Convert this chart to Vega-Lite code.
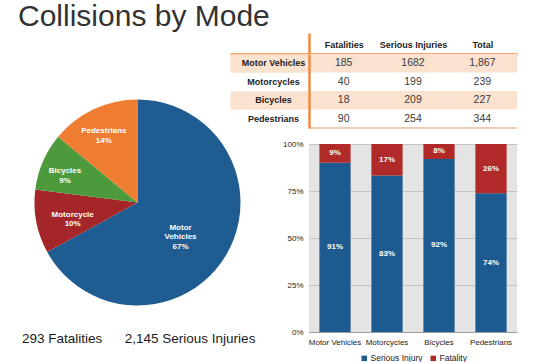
{
  "$schema": "https://vega.github.io/schema/vega-lite/v6.json",
  "background": "white",
  "padding": {"left": 18, "top": 1, "right": 0, "bottom": 0},
  "config": {"font": "Liberation Sans", "view": {"stroke": null}, "legend": {"layout": {"bottom": {"anchor": "middle"}}}},
  "title": {"text": "Collisions by Mode", "anchor": "start", "fontSize": 30, "fontWeight": "normal", "color": "#333333", "dx": -4, "offset": 0},
  "datasets": {
    "pie": [
      {"mode": "Motor Vehicles", "pct": 67, "label": "Motor\nVehicles\n67%"},
      {"mode": "Motorcycle", "pct": 10, "label": "Motorcycle\n10%"},
      {"mode": "Bicycles", "pct": 9, "label": "Bicycles\n9%"},
      {"mode": "Pedestrians", "pct": 14, "label": "Pedestrians\n14%"}
    ],
    "table": [
      {"mode": "Motor Vehicles", "fatalities": 185, "serious": 1682, "total": 1867},
      {"mode": "Motorcycles", "fatalities": 40, "serious": 199, "total": 239},
      {"mode": "Bicycles", "fatalities": 18, "serious": 209, "total": 227},
      {"mode": "Pedestrians", "fatalities": 90, "serious": 254, "total": 344}
    ],
    "bars": [
      {"mode": "Motor Vehicles", "type": "Serious Injury", "count": 1682, "share": 0.91},
      {"mode": "Motor Vehicles", "type": "Fatality", "count": 185, "share": 0.09},
      {"mode": "Motorcycles", "type": "Serious Injury", "count": 199, "share": 0.83},
      {"mode": "Motorcycles", "type": "Fatality", "count": 40, "share": 0.17},
      {"mode": "Bicycles", "type": "Serious Injury", "count": 209, "share": 0.92},
      {"mode": "Bicycles", "type": "Fatality", "count": 18, "share": 0.08},
      {"mode": "Pedestrians", "type": "Serious Injury", "count": 254, "share": 0.74},
      {"mode": "Pedestrians", "type": "Fatality", "count": 90, "share": 0.26}
    ]
  },
  "bounds": "flush",
  "spacing": 56,
  "resolve": {"scale": {"color": "independent"}, "legend": {"color": "independent"}},
  "hconcat": [
    {
      "width": 231,
      "height": 297,
      "data": {"name": "pie"},
      "transform": [{"window": [{"op": "row_number", "as": "idx"}]}],
      "title": {"text": "293 Fatalities\u00a0\u00a0\u00a0\u00a0\u00a0 2,145 Serious Injuries", "orient": "bottom", "anchor": "start", "offset": -19, "fontSize": 13.5, "fontWeight": "normal", "color": "#1a1a1a"},
      "layer": [
        {
          "mark": {"type": "arc", "outerRadius": 103},
          "encoding": {
            "theta": {"field": "pct", "type": "quantitative", "stack": true},
            "color": {"field": "mode", "type": "nominal", "scale": {"domain": ["Motor Vehicles", "Motorcycle", "Bicycles", "Pedestrians"], "range": ["#1e5c91", "#a52629", "#4c9a3c", "#ef7d31"]}, "legend": null},
            "order": {"field": "idx", "type": "quantitative"}
          }
        },
        {
          "mark": {"type": "text", "radius": 50, "color": "white", "fontWeight": "bold", "fontSize": 8, "lineBreak": "\n", "lineHeight": 9.5, "align": "center", "baseline": "middle"},
          "encoding": {
            "theta": {"field": "pct", "type": "quantitative", "stack": true},
            "detail": {"field": "mode"},
            "order": {"field": "idx", "type": "quantitative"},
            "text": {"condition": {"test": "datum.mode === 'Motor Vehicles'", "field": "label"}, "value": ""}
          }
        },
        {
          "mark": {"type": "text", "radius": 66, "color": "white", "fontWeight": "bold", "fontSize": 8, "lineBreak": "\n", "lineHeight": 9.5, "align": "center", "baseline": "middle"},
          "encoding": {
            "theta": {"field": "pct", "type": "quantitative", "stack": true},
            "detail": {"field": "mode"},
            "order": {"field": "idx", "type": "quantitative"},
            "text": {"condition": {"test": "datum.mode === 'Motorcycle'", "field": "label"}, "value": ""}
          }
        },
        {
          "mark": {"type": "text", "radius": 79, "color": "white", "fontWeight": "bold", "fontSize": 8, "lineBreak": "\n", "lineHeight": 9.5, "align": "center", "baseline": "middle"},
          "encoding": {
            "theta": {"field": "pct", "type": "quantitative", "stack": true},
            "detail": {"field": "mode"},
            "order": {"field": "idx", "type": "quantitative"},
            "text": {"condition": {"test": "datum.mode === 'Bicycles' || datum.mode === 'Pedestrians'", "field": "label"}, "value": ""}
          }
        }
      ]
    },
    {
      "bounds": "flush",
      "spacing": 16,
      "resolve": {"scale": {"color": "independent"}, "legend": {"color": "independent"}},
      "vconcat": [
        {
          "width": 208,
          "height": 74,
          "data": {"name": "table"},
          "resolve": {"scale": {"y": "independent"}, "axis": {"y": "independent"}},
          "layer": [
            {
              "encoding": {
                "y": {"field": "mode", "type": "nominal",
                  "scale": {"domain": ["Motor Vehicles", "Motorcycles", "Bicycles", "Pedestrians"], "paddingInner": 0, "paddingOuter": 0},
                  "axis": {"title": null, "orient": "left", "domainColor": "#ee8a44", "domainWidth": 2.5, "labelFontWeight": "bold", "labelFontSize": 9, "labelColor": "#222222", "labelAlign": "center", "labelBaseline": "middle", "labelPadding": -43, "tickSize": 79, "tickWidth": 18.5,
                    "tickColor": {"condition": {"test": "datum.value === 'Motor Vehicles' || datum.value === 'Bicycles'", "value": "#fbe2cf"}, "value": "transparent"}}}
              },
              "layer": [
                {
                  "transform": [{"filter": "datum.mode === 'Motor Vehicles' || datum.mode === 'Bicycles'"}],
                  "mark": {"type": "rect", "color": "#fbe2cf"},
                  "encoding": {}
                },
                {
                  "mark": {"type": "text", "fontSize": 10.5, "color": "#3a3a3a", "baseline": "middle"},
                  "encoding": {
                    "x": {"datum": "Fatalities", "type": "nominal",
                      "scale": {"domain": ["Fatalities", "Serious Injuries", "Total"], "paddingInner": 0, "paddingOuter": 0},
                      "axis": {"title": null, "orient": "top", "labelAngle": 0, "labelFontWeight": "bold", "labelFontSize": 9, "labelColor": "#222222", "labelBaseline": "middle", "labelPadding": -11.5, "domainColor": "#ee8a44", "domainWidth": 2.5, "tickBand": "extent", "tickSize": 21, "tickWidth": 2.5,
                        "tickColor": {"condition": {"test": "datum.extra", "value": "#ee8a44"}, "value": "transparent"}}},
                    "text": {"field": "fatalities", "type": "quantitative", "format": "d"}
                  }
                },
                {
                  "mark": {"type": "text", "fontSize": 10.5, "color": "#3a3a3a", "baseline": "middle"},
                  "encoding": {
                    "x": {"datum": "Serious Injuries", "type": "nominal"},
                    "text": {"field": "serious", "type": "quantitative", "format": "d"}
                  }
                },
                {
                  "mark": {"type": "text", "fontSize": 10.5, "color": "#3a3a3a", "baseline": "middle"},
                  "encoding": {
                    "x": {"datum": "Total", "type": "nominal"},
                    "text": {"field": "total", "type": "quantitative", "format": ",d"}
                  }
                }
              ]
            },
            {
              "mark": {"type": "rule", "color": "#f1c9a8", "strokeWidth": 1},
              "encoding": {
                "y": {"datum": "Pedestrians", "type": "nominal", "bandPosition": 1,
                  "scale": {"domain": ["Motor Vehicles", "Motorcycles", "Bicycles", "Pedestrians"], "paddingInner": 0, "paddingOuter": 0},
                  "axis": {"title": null, "orient": "left", "labels": false, "domain": false, "grid": false, "tickBand": "extent", "tickSize": 79,
                    "tickColor": {"condition": {"test": "datum.extra", "value": "#ee8a44"}, "value": {"expr": "datum.value === 'Pedestrians' ? '#f1c9a8' : 'transparent'"}},
                    "tickWidth": {"condition": {"test": "datum.extra", "value": 2.5}, "value": 1}}}
              }
            }
          ]
        },
        {
          "width": 208,
          "height": 188,
          "data": {"name": "bars"},
          "transform": [{"window": [{"op": "row_number", "as": "idx"}]}],
          "view": {"fill": "#e4e4e4", "stroke": null},
          "encoding": {
            "x": {"field": "mode", "type": "nominal", "sort": ["Motor Vehicles", "Motorcycles", "Bicycles", "Pedestrians"], "scale": {"paddingInner": 0.4, "paddingOuter": 0.2},
              "axis": {"title": null, "labelAngle": 0, "labelFontSize": 8, "labelColor": "#222222", "ticks": false, "domainColor": "#a0a0a0", "labelPadding": 6}}
          },
          "layer": [
            {
              "mark": {"type": "bar"},
              "encoding": {
                "y": {"field": "count", "type": "quantitative", "stack": "normalize", "scale": {"domain": [0, 1]},
                  "axis": {"title": null, "format": ".0%", "values": [0, 0.25, 0.5, 0.75, 1], "gridColor": "#c4c4c4", "domain": false, "ticks": false, "labelFontSize": 8, "labelColor": "#222222", "labelPadding": 6}},
                "color": {"field": "type", "type": "nominal", "scale": {"domain": ["Serious Injury", "Fatality"], "range": ["#1d5a8f", "#b02a2a"]},
                  "legend": {"title": null, "orient": "bottom", "direction": "horizontal", "symbolType": "square", "symbolSize": 30, "symbolStrokeWidth": 0, "labelFontSize": 8.5, "labelColor": "#222222", "labelOffset": 2, "columnPadding": 6, "offset": 8}},
                "order": {"field": "idx", "type": "quantitative"}
              }
            },
            {
              "mark": {"type": "text", "color": "white", "fontWeight": "bold", "fontSize": 8, "baseline": "middle"},
              "encoding": {
                "y": {"field": "count", "type": "quantitative", "stack": "normalize", "bandPosition": 0.5},
                "detail": {"field": "type"},
                "order": {"field": "idx", "type": "quantitative"},
                "text": {"field": "share", "type": "quantitative", "format": ".0%"}
              }
            }
          ]
        }
      ]
    }
  ]
}
